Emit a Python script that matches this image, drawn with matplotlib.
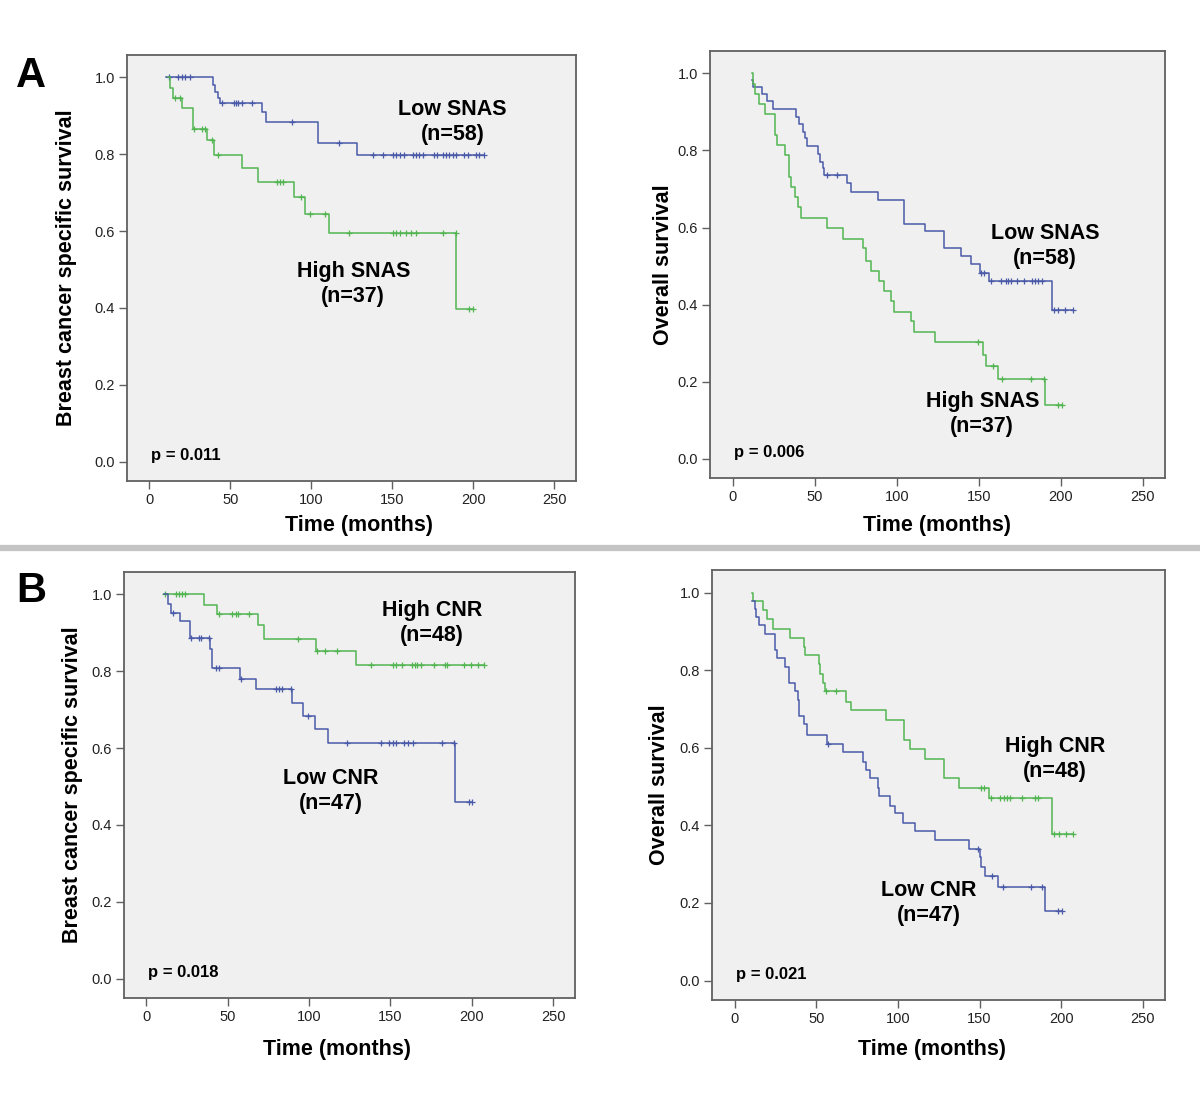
"""Kaplan-Meier panels: SNAS (A) and CNR (B) against BCSS and overall survival."""

import matplotlib

matplotlib.use("Agg")
import matplotlib.pyplot as plt
import numpy as np
from matplotlib.lines import Line2D

plt.rcParams["font.family"] = ["Liberation Sans", "DejaVu Sans"]

BLUE = "#4a5aa8"
GREEN = "#52b552"

# --- A, breast cancer specific survival -------------------------------------
A_BCSS_LOW_T = [10.5, 39.6, 40.6, 42.7, 43.7, 69.4, 72.0, 104.3, 128.5]
A_BCSS_LOW_S = [1.0, 0.980, 0.962, 0.946, 0.932, 0.910, 0.885, 0.828, 0.798]
A_BCSS_LOW_C = [11.9, 18.0, 20.0, 22.0, 24.8, 44.7, 52.0, 53.6, 55.0, 57.0, 63.2, 88.3,
                117.3, 138.1, 144.2, 150.4, 152.4, 154.9, 157.0, 162.7, 164.8, 166.8,
                168.9, 175.5, 177.5, 181.2, 183.3, 185.3, 187.4, 189.4, 194.5, 196.6,
                201.7, 203.8, 206.9]
A_BCSS_HIGH_T = [11.5, 12.5, 14.6, 20.1, 26.7, 35.9, 40.2, 57.1, 66.9, 89.3, 96.1, 111.0, 189.5]
A_BCSS_HIGH_S = [1.0, 0.973, 0.946, 0.919, 0.865, 0.838, 0.798, 0.764, 0.728, 0.688,
                 0.645, 0.596, 0.398]
A_BCSS_HIGH_C = [16.0, 19.1, 27.3, 32.4, 34.5, 38.6, 42.1, 78.6, 80.7, 82.7, 93.4, 99.1,
                 108.4, 123.2, 150.4, 152.5, 154.6, 158.7, 161.8, 164.4, 181.2, 189.3,
                 197.7, 199.7]

# --- A, overall survival ------------------------------------------------------
A_OS_LOW_T = [12.0, 12.5, 18.1, 21.0, 24.3, 38.5, 40.5, 42.6, 44.0, 45.2, 52.2, 53.2, 54.8,
              55.8, 69.7, 72.1, 88.4, 104.7, 117.4, 128.8, 139.0, 145.0, 150.6, 156.5, 194.8]
A_OS_LOW_S = [0.983, 0.965, 0.946, 0.927, 0.908, 0.888, 0.868, 0.849, 0.832, 0.812, 0.790,
              0.771, 0.754, 0.737, 0.715, 0.692, 0.672, 0.609, 0.590, 0.547, 0.527, 0.505,
              0.482, 0.461, 0.385]
A_OS_LOW_C = [57.5, 63.4, 151.5, 153.0, 157.7, 163.8, 166.3, 167.9, 169.5, 173.0, 177.7,
              182.6, 184.2, 186.2, 188.3, 196.0, 198.5, 202.5, 207.6]
A_OS_HIGH_T = [12.0, 12.5, 13.5, 16.1, 19.8, 26.0, 27.0, 32.0, 34.4, 35.5, 38.2, 39.9, 41.8,
               57.4, 67.0, 79.3, 81.5, 84.4, 89.4, 92.5, 96.6, 98.6, 108.6, 110.8, 123.3,
               152.4, 154.6, 161.6, 190.5]
A_OS_HIGH_S = [1.0, 0.973, 0.946, 0.920, 0.894, 0.840, 0.814, 0.787, 0.732, 0.706, 0.679,
               0.652, 0.625, 0.599, 0.571, 0.547, 0.514, 0.486, 0.461, 0.435, 0.409, 0.382,
               0.357, 0.328, 0.302, 0.268, 0.241, 0.207, 0.140]
A_OS_HIGH_C = [149.5, 158.7, 164.4, 181.7, 190.0, 198.5, 200.7]

# --- B, breast cancer specific survival -------------------------------------
B_BCSS_HIGH_T = [10.7, 35.3, 43.5, 68.8, 72.3, 104.1, 128.7]
B_BCSS_HIGH_S = [1.0, 0.972, 0.948, 0.919, 0.885, 0.853, 0.816]
B_BCSS_HIGH_C = [11.7, 17.9, 19.9, 22.0, 24.0, 44.5, 52.8, 54.8, 56.2, 63.0, 93.4, 105.1,
                 109.6, 117.4, 138.3, 151.9, 153.3, 157.4, 163.5, 165.0, 166.6, 169.1,
                 176.9, 183.5, 185.1, 195.4, 199.5, 203.6, 207.7]
B_BCSS_LOW_T = [10.7, 13.3, 14.8, 20.5, 26.7, 39.0, 40.4, 57.3, 67.5, 89.7, 96.5, 103.6,
                111.6, 189.8]
B_BCSS_LOW_S = [1.0, 0.974, 0.952, 0.931, 0.886, 0.857, 0.808, 0.779, 0.753, 0.717, 0.684,
                0.649, 0.612, 0.461]
B_BCSS_LOW_C = [16.4, 27.1, 32.2, 33.7, 38.4, 42.5, 44.5, 57.9, 79.4, 81.5, 83.5, 88.7, 99.6,
                123.6, 144.5, 149.2, 151.3, 153.3, 158.4, 160.9, 164.2, 181.5, 189.2,
                198.5, 199.9]

# --- B, overall survival ------------------------------------------------------
B_OS_HIGH_T = [10.6, 11.0, 17.2, 19.8, 23.3, 34.1, 42.3, 43.3, 51.5, 52.5, 54.1, 55.6, 68.4,
               71.5, 92.5, 103.6, 107.7, 116.6, 128.0, 137.6, 155.6, 194.2]
B_OS_HIGH_S = [1.0, 0.977, 0.954, 0.931, 0.907, 0.884, 0.859, 0.838, 0.815, 0.791, 0.767,
               0.745, 0.719, 0.696, 0.672, 0.621, 0.597, 0.571, 0.521, 0.497, 0.471, 0.377]
B_OS_HIGH_C = [56.0, 62.3, 151.1, 152.9, 156.7, 162.8, 164.8, 166.9, 168.9, 175.7, 184.2,
               185.8, 195.5, 198.5, 202.6, 207.1]
B_OS_LOW_T = [10.8, 12.3, 13.1, 15.1, 18.8, 24.9, 25.9, 30.6, 33.1, 37.2, 38.8, 39.6, 42.5,
              44.3, 56.6, 66.2, 78.4, 80.3, 83.1, 87.8, 88.6, 95.4, 98.0, 102.9, 110.7,
              122.5, 143.4, 150.0, 150.8, 153.2, 161.0, 190.2]
B_OS_LOW_S = [0.979, 0.957, 0.936, 0.915, 0.894, 0.851, 0.830, 0.809, 0.766, 0.745, 0.723,
              0.681, 0.660, 0.633, 0.610, 0.588, 0.564, 0.543, 0.521, 0.497, 0.476, 0.450,
              0.431, 0.407, 0.385, 0.362, 0.340, 0.318, 0.293, 0.270, 0.240, 0.180]
B_OS_LOW_C = [57.2, 149.1, 157.7, 164.2, 181.2, 188.5, 198.1, 200.2]

X_TICKS = [0, 50, 100, 150, 200, 250]
Y_TICKS = [0.0, 0.2, 0.4, 0.6, 0.8, 1.0]
P_VALUES = ["p = 0.011", "p = 0.006", "p = 0.018", "p = 0.021"]

W, H = 1200, 1119


def km_curve(ax, t, s, cens, color):
    t, s, cens = np.asarray(t), np.asarray(s), np.asarray(cens)
    t_end = max(t[-1], cens.max())
    ax.step(np.append(t, t_end), np.append(s, s[-1]), where="post", color=color, lw=1.1)
    idx = np.searchsorted(t, cens, side="right") - 1
    ax.plot(cens, s[idx], ls="none", marker="+", ms=5, mew=0.9, color=color)


def panel(box, curves, ylabel, pval, labels, xlab, ylab_x):
    left, top, right, bottom = box
    xlab_x, xlab_gap = xlab
    ax = fig.add_axes([left / W, 1 - bottom / H, (right - left) / W, (bottom - top) / H])
    ax.set_facecolor("#f0f0f0")
    for sp in ax.spines.values():
        sp.set_color("#606060")
        sp.set_linewidth(1.3)
    for t, s, c, color in curves:
        km_curve(ax, t, s, c, color)
    ax.set_xlim(-13.8, 263.5)
    ax.set_ylim(-0.05, 1.058)
    ax.set_xticks(X_TICKS)
    ax.set_yticks(Y_TICKS)
    ax.set_yticklabels([f"{v:.1f}" for v in Y_TICKS])
    ax.tick_params(length=6, width=1.0, color="#606060", labelsize=10.5,
                   labelcolor="#222222", pad=2.5)
    ax.set_xlabel("Time (months)", fontsize=15.5, fontweight="bold")
    ax.xaxis.set_label_coords(xlab_x, -xlab_gap / (bottom - top))
    ax.xaxis.label.set_va("center")
    ax.set_ylabel(ylabel, fontsize=15.5, fontweight="bold")
    ax.yaxis.set_label_coords(ylab_x, 0.5)
    ax.yaxis.label.set_va("center")
    ax.text(1.0, 0.016, pval, fontsize=12, fontweight="bold", ha="left", va="center")
    for tx, sx, txt in labels:
        ax.text(tx, sx, txt, fontsize=15.5, fontweight="bold", ha="center", va="center",
                linespacing=1.25)
    return ax


fig = plt.figure(figsize=(W / 100, H / 100), dpi=100)

panel((127, 55, 576, 481),
      [(A_BCSS_LOW_T, A_BCSS_LOW_S, A_BCSS_LOW_C, BLUE),
       (A_BCSS_HIGH_T, A_BCSS_HIGH_S, A_BCSS_HIGH_C, GREEN)],
      "Breast cancer specific survival", P_VALUES[0],
      [(187.2, 0.885, "Low SNAS\n(n=58)"), (125.9, 0.462, "High SNAS\n(n=37)")],
      (0.517, 45), -0.134)
panel((710, 51, 1165, 478),
      [(A_OS_LOW_T, A_OS_LOW_S, A_OS_LOW_C, BLUE),
       (A_OS_HIGH_T, A_OS_HIGH_S, A_OS_HIGH_C, GREEN)],
      "Overall survival", P_VALUES[1],
      [(190.3, 0.552, "Low SNAS\n(n=58)"), (152.1, 0.115, "High SNAS\n(n=37)")],
      (0.499, 47), -0.103)
panel((124, 572, 575, 998),
      [(B_BCSS_HIGH_T, B_BCSS_HIGH_S, B_BCSS_HIGH_C, GREEN),
       (B_BCSS_LOW_T, B_BCSS_LOW_S, B_BCSS_LOW_C, BLUE)],
      "Breast cancer specific survival", P_VALUES[2],
      [(175.4, 0.926, "High CNR\n(n=48)"), (113.5, 0.488, "Low CNR\n(n=47)")],
      (0.472, 51), -0.115)
panel((712, 570, 1165, 1000),
      [(B_OS_HIGH_T, B_OS_HIGH_S, B_OS_HIGH_C, GREEN),
       (B_OS_LOW_T, B_OS_LOW_S, B_OS_LOW_C, BLUE)],
      "Overall survival", P_VALUES[3],
      [(196.1, 0.571, "High CNR\n(n=48)"), (119.1, 0.201, "Low CNR\n(n=47)")],
      (0.486, 50), -0.115)

fig.text(30.5 / W, 1 - 76 / H, "A", fontsize=30, fontweight="bold", ha="center", va="center")
fig.text(31 / W, 1 - 591 / H, "B", fontsize=30, fontweight="bold", ha="center", va="center")
fig.add_artist(Line2D([0, 1], [1 - 548 / H] * 2, transform=fig.transFigure,
                      color="#c4c4c4", lw=4.5))

fig.savefig("out.png", dpi=100)
